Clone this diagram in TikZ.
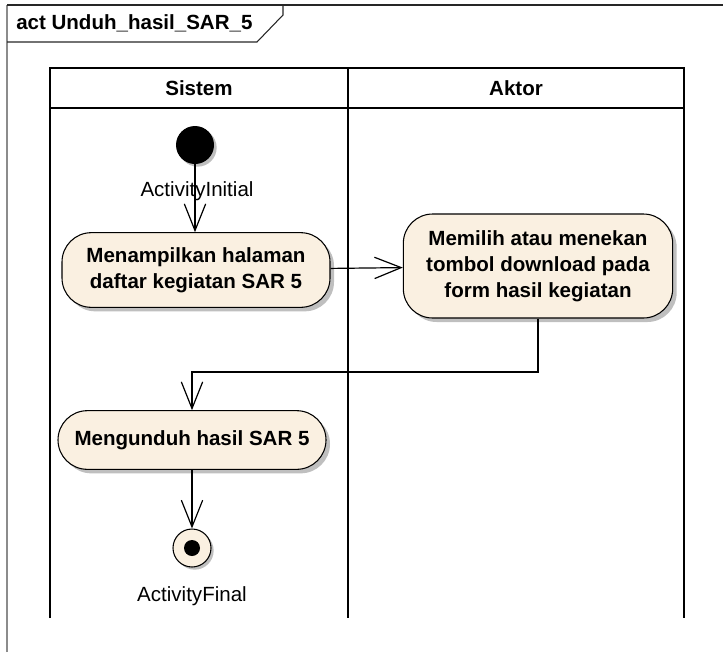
\documentclass[tikz,border=0pt]{standalone}
\usepackage{fontspec}
\setmainfont{Liberation Sans}
\usepackage{xcolor}
\usetikzlibrary{arrows.meta,positioning,shadows}
\definecolor{actfill}{HTML}{FAF0E1}
\tikzset{
  action/.style={rectangle, rounded corners=22pt, draw=black, thick,
    fill=actfill, minimum width=201pt, minimum height=56pt, align=center,
    font=\fontsize{15.4}{19.5}\selectfont\bfseries, inner sep=2pt,
    drop shadow={shadow xshift=3pt, shadow yshift=-3pt, fill=black, opacity=0.25}},
  caption/.style={font=\fontsize{15.4}{19.5}\selectfont, inner sep=1pt},
  lanehead/.style={font=\fontsize{15.4}{19.5}\selectfont\bfseries, inner sep=1pt},
  laneline/.style={line width=1.5pt, black},
  flowarrow/.style={-{Straight Barb[length=20pt,width=16pt,line width=0.9pt]}, line width=0.9pt, black},
}
\begin{document}
\begin{tikzpicture}[x=0.75pt, y=-0.75pt]
\useasboundingbox (0,0) rectangle (723,657);

% frame and title tab
\draw[black!45, line width=1.2pt] (7,652) -- (7,5);
\draw[black!85, line width=1pt] (7,5) -- (723,5);
\draw[black!85, line width=0.8pt] (7,42) -- (257,42) -- (283,15) -- (283,5);
\node[font=\fontsize{15.4}{19.5}\selectfont\bfseries, anchor=west, inner sep=0pt] (title) at (16,23) {act Unduh\_hasil\_SAR\_5};

% swimlanes
\draw[laneline] (50,618) -- (50,68) -- (684,68) -- (684,618);
\draw[laneline] (50,108) -- (684,108);
\draw[laneline] (348,68) -- (348,618);
\node[lanehead] (sistem) at (199,88) {Sistem};
\node[lanehead] (aktor) at (516,88) {Aktor};

% nodes
\node[circle, fill=black, minimum size=28.5pt, inner sep=0pt,
  drop shadow={shadow xshift=2pt, shadow yshift=-2pt, fill=black, opacity=0.25}] (start) at (195,145) {};
\node[caption] (startlabel) at (197,191) {ActivityInitial};
\node[action] (tampil) at (196,270) {Menampilkan halaman\\daftar kegiatan SAR 5};
\node[action, minimum width=202pt, minimum height=78pt] (pilih) at (538,266) {Memilih atau menekan\\tombol download pada\\form hasil kegiatan};
\node[action, minimum height=44pt] (unduh) at (192,440) {Mengunduh hasil SAR 5};
\node[circle, draw=black, thick, fill=actfill, minimum size=28.5pt, inner sep=0pt,
  drop shadow={shadow xshift=2pt, shadow yshift=-2pt, fill=black, opacity=0.25}] (final) at (192,548) {};
\node[circle, fill=black, minimum size=12pt, inner sep=0pt] (finaldot) at (final) {};
\node[caption] (finallabel) at (192,596) {ActivityFinal};
\coordinate (belok) at (538,372);

% flows
\draw[flowarrow] (start) -- (start |- tampil.north);
\draw[flowarrow] (tampil) -- (pilih);
\draw[flowarrow] (pilih.south) -- (belok) -| (unduh.north);
\draw[flowarrow] (unduh) -- (final);
\end{tikzpicture}
\end{document}
